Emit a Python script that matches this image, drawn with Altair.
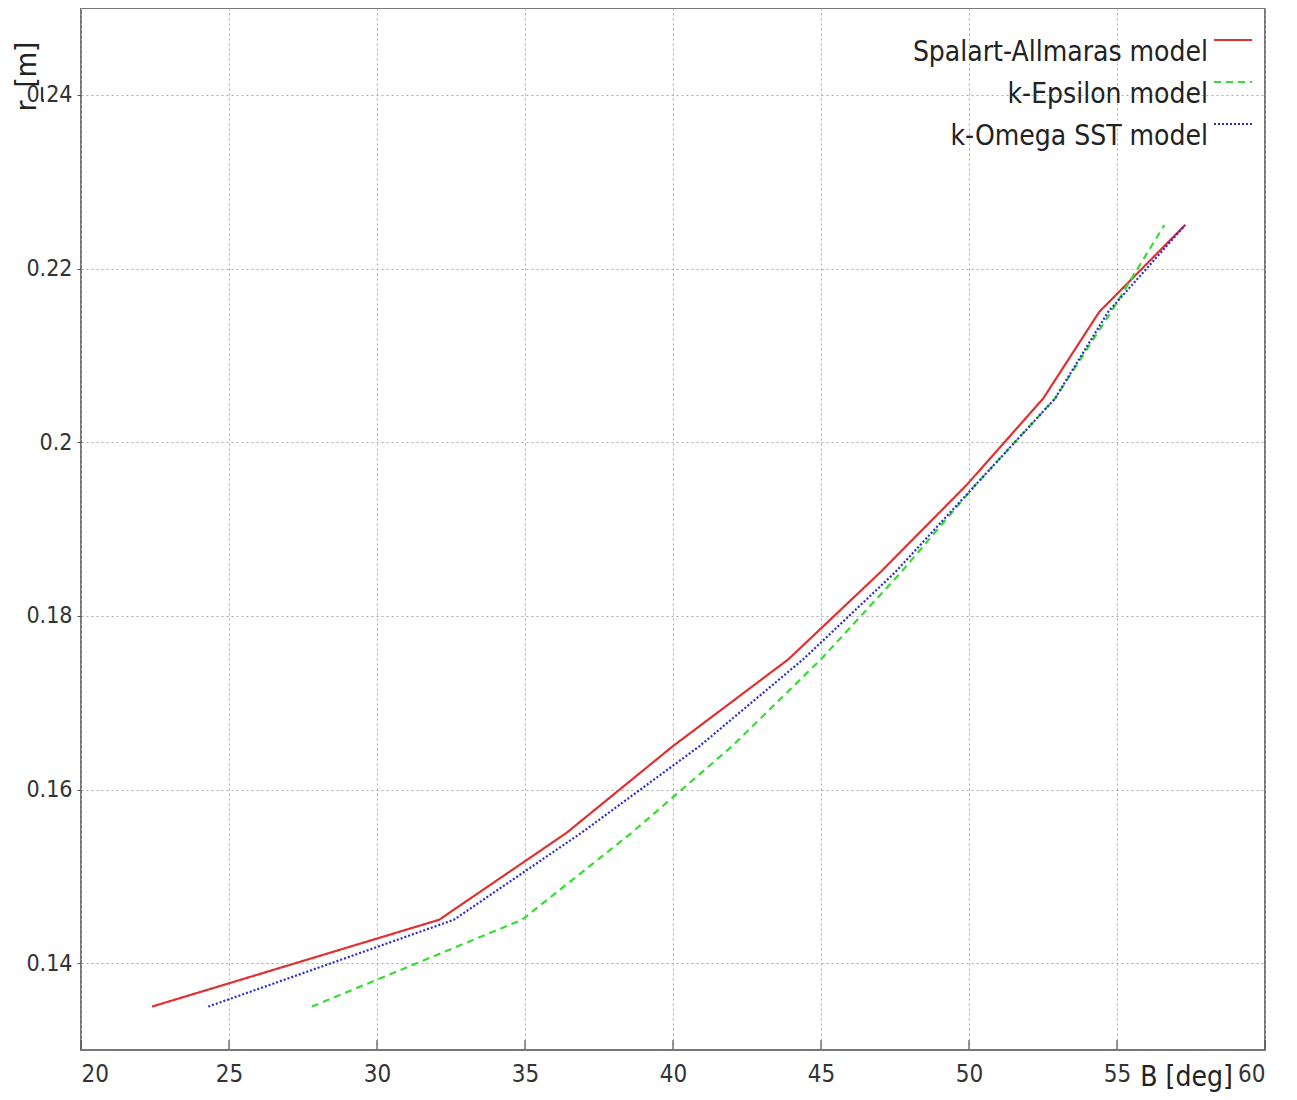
import altair as alt
import pandas as pd

# ---- data ----
series_names = ["Spalart-Allmaras model", "k-Epsilon model", "k-Omega SST model"]
r_levels = [0.135, 0.145, 0.155, 0.165, 0.175, 0.185, 0.195, 0.205, 0.215, 0.225]
B_sa = [22.4, 32.1, 36.4, 40.0, 43.9, 47.0, 49.9, 52.5, 54.4, 57.3]
B_eps = [27.8, 34.9, 38.6, 42.0, 45.0, 47.7, 50.2, 52.9, 54.8, 56.6]
B_omega = [24.3, 32.6, 36.9, 40.9, 44.4, 47.5, 50.2, 52.9, 54.7, 57.3]

x_ticks = [20, 25, 30, 35, 40, 45, 50, 55, 60]
y_ticks = [0.14, 0.16, 0.18, 0.20, 0.22, 0.24]

colors = ["#e0302f", "#33dd33", "#2a2ad0"]
dashes = [[1, 0], [7, 5], [2, 2]]

rows = []
for name, bs in zip(series_names, [B_sa, B_eps, B_omega]):
    for i, (b, r) in enumerate(zip(bs, r_levels)):
        rows.append({"series": name, "B": b, "r": r, "order": i})
df = pd.DataFrame(rows)
ticks_df = pd.DataFrame({"B": x_ticks})
legend_df = pd.DataFrame({"series": series_names, "idx": list(range(len(series_names)))})

FONT = "DejaVu Sans Condensed, Liberation Sans Narrow, DejaVu Sans"

color_scale = alt.Scale(domain=series_names, range=colors)
dash_scale = alt.Scale(domain=series_names, range=dashes)
x_scale = alt.Scale(domain=[20, 60], nice=False, zero=False)

lines = alt.Chart(df).mark_line(strokeWidth=2.2).encode(
    x=alt.X("B:Q", scale=x_scale,
            axis=alt.Axis(values=x_ticks, title="B [deg]", titleX=1105, titleY=27,
                          titleAngle=0, titleAlign="center", titleBaseline="middle",
                          titleFontSize=28, titleFontWeight="normal", ticks=False,
                          labelPadding=12, labelFontSize=24, domain=False)),
    y=alt.Y("r:Q", scale=alt.Scale(domain=[0.13, 0.25], nice=False, zero=False),
            axis=alt.Axis(values=y_ticks, labelExpr="format(datum.value, '.2~f')",
                          title="r_[m]", titleX=-55, titleY=68, titleAngle=270,
                          titleAlign="center", titleBaseline="middle",
                          titleFontSize=29, titleFontWeight="normal",
                          tickSize=4, labelPadding=5, labelFontSize=23, domain=False)),
    color=alt.Color("series:N", scale=color_scale, legend=None),
    strokeDash=alt.StrokeDash("series:N", scale=dash_scale, legend=None),
    order="order:Q",
)

inner_ticks = alt.Chart(ticks_df).mark_rule(color="#555555", strokeWidth=1.2).encode(
    x=alt.X("B:Q", scale=x_scale),
    y=alt.value(1032),
    y2=alt.value(1042),
)

legend_y = alt.Scale(domain=[0, 2], range=[32, 116], nice=False, zero=False)

legend_text = alt.Chart(legend_df).mark_text(
    align="right", baseline="middle", fontSize=28, font=FONT, color="#222222", dy=13
).encode(
    x=alt.value(1127),
    y=alt.Y("idx:Q", scale=legend_y, axis=None),
    text="series:N",
)

legend_lines = alt.Chart(legend_df).mark_rule(strokeWidth=2.2).encode(
    x=alt.value(1133),
    x2=alt.value(1171),
    y=alt.Y("idx:Q", scale=legend_y, axis=None),
    color=alt.Color("series:N", scale=color_scale, legend=None),
    strokeDash=alt.StrokeDash("series:N", scale=dash_scale, legend=None),
)

chart = alt.layer(lines, inner_ticks, legend_text, legend_lines).resolve_scale(
    y="independent"
).properties(
    width=1184,
    height=1042,
    padding={"left": 73, "top": 0, "right": 22, "bottom": 42},
    autosize=alt.AutoSizeParams(type="none"),
    background="white",
).configure_view(
    stroke="#777777", strokeWidth=2
).configure_axis(
    labelFont=FONT, titleFont=FONT, labelColor="#333333", titleColor="#222222",
    gridColor="#aaaaaa", gridDash=[2, 3], gridWidth=1, tickColor="#555555",
)

chart.save("out.html", embed_options={"renderer": "svg", "actions": False})
